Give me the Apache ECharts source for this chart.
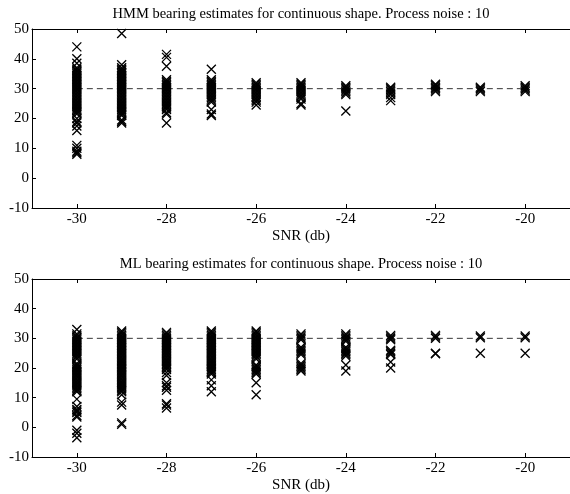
<!DOCTYPE html>
<html>
<head>
<meta charset="utf-8">
<script src="https://cdn.jsdelivr.net/npm/echarts@6/dist/echarts.min.js"></script>
<style>
  html, body { margin: 0; padding: 0; background: #fff; }
  #chart { width: 570px; height: 494px; }
</style>
</head>
<body>
<div id="chart"></div>
<script>
// SNR levels (dB) at which the bearing estimates were collected
const snrLevels = [-30, -29, -28, -27, -26, -25, -24, -23, -22, -21, -20];
const tickLabels = [-30, -28, -26, -24, -22, -20];
const trueBearing = 30;
const truthSpan = [-30, -20];

// HMM bearing estimates, one list per SNR level
const hmm30 = [44, 40, 38.5, 37, 36.5, 36, 35.5, 35, 34.5, 34, 33.5, 33, 32.5, 32, 31.5, 31, 30.5, 30, 29.5, 29, 28.5, 28, 27.5, 27, 26.5, 26, 25.5, 25, 24.5, 24, 23.5, 23, 22.5, 22, 21.5, 20, 19, 18.5, 17.5, 16, 11, 10, 9, 8.5, 8];
const hmm29 = [48.5, 38, 37, 36.5, 36, 35.5, 35, 34.5, 34, 33.5, 33, 32.5, 32, 31.5, 31, 30.5, 30, 29.5, 29, 28.5, 28, 27.5, 27, 26.5, 26, 25.5, 25, 24.5, 24, 23.5, 23, 22.5, 22, 21.5, 21, 19.5, 19, 18.5];
const hmm28 = [41.5, 40.5, 37.5, 33, 32.5, 32, 31.5, 31, 30.5, 30, 29.5, 29, 28.5, 28, 27.5, 27, 26.5, 26, 25.5, 25, 24.5, 24, 23.5, 23, 22, 21.5, 18.5];
const hmm27 = [36.5, 33, 32.5, 32, 31.5, 31, 30.5, 30, 29.5, 29, 28.5, 28, 27.5, 27, 26.5, 26, 25.5, 23, 21.5, 21];
const hmm26 = [32, 31.5, 31, 30.5, 30, 29.5, 29, 28.5, 28, 27.5, 27, 26.5, 26, 25.5, 24.5];
const hmm25 = [32, 31.5, 31, 30.5, 30, 29.5, 29, 28.5, 28, 27.5, 27, 26.5, 25, 24.5];
const hmm24 = [31, 30.5, 30, 29.5, 29, 28.5, 28, 22.5];
const hmm23 = [30.5, 30, 29.5, 29, 28.5, 28, 27, 26];
const hmm22 = [31.5, 31, 30.5, 30, 29.5, 29];
const hmm21 = [30.5, 30, 29.5, 29];
const hmm20 = [31, 30.5, 30, 29.5, 29];

// ML bearing estimates, one list per SNR level
const ml30 = [33, 31.5, 31, 30.5, 30, 29.5, 29, 28.5, 28, 27.5, 27, 26.5, 26, 25.5, 25, 24.5, 24, 23.5, 23, 21.5, 21, 20.5, 20, 19.5, 19, 18.5, 18, 17.5, 17, 16.5, 16, 15.5, 15, 14.5, 14, 13.5, 13, 12.5, 12, 9.5, 7, 6, 5.5, 5, 4, 3.5, -1, -2, -3.5];
const ml29 = [32.5, 32, 31.5, 31, 30.5, 30, 29.5, 29, 28.5, 28, 27.5, 27, 26.5, 26, 25.5, 25, 24.5, 24, 23.5, 23, 22.5, 22, 21.5, 21, 20.5, 20, 19.5, 19, 18.5, 18, 17.5, 17, 16.5, 16, 15.5, 15, 14.5, 14, 13.5, 13, 12.5, 12, 11, 8.5, 7.5, 1.5, 1];
const ml28 = [32, 31.5, 31, 30.5, 30, 29.5, 29, 28.5, 28, 27.5, 27, 26.5, 26, 25.5, 25, 24.5, 24, 23.5, 23, 22.5, 22, 21.5, 21, 20.5, 20, 19.5, 18.5, 17.5, 15, 14, 13.5, 12.5, 8, 7.5, 6.5];
const ml27 = [32.5, 32, 31.5, 31, 30.5, 30, 29.5, 29, 28.5, 28, 27.5, 27, 26.5, 26, 25.5, 25, 24.5, 24, 23.5, 23, 22.5, 22, 21.5, 21, 20.5, 20, 19.5, 19, 18.5, 18, 16, 14, 12];
const ml26 = [32.5, 32, 31.5, 31, 30.5, 30, 29.5, 29, 28.5, 28, 27.5, 27, 26.5, 26, 25.5, 25, 24.5, 24, 23.5, 23, 21, 20.5, 20, 19.5, 19, 18.5, 18, 15, 11];
const ml25 = [31.5, 31, 30.5, 30, 29.5, 27, 26.5, 26, 25.5, 25, 24.5, 21.5, 21, 20.5, 20, 19.5, 19];
const ml24 = [31.5, 31, 30.5, 30, 29.5, 29, 27, 26.5, 26, 25.5, 25, 24.5, 24, 21, 19];
const ml23 = [31, 30.5, 30, 29.5, 26, 25.5, 25, 24.5, 22, 20];
const ml22 = [31, 30.5, 30, 25, 24.8];
const ml21 = [30.8, 30.2, 25];
const ml20 = [30.8, 30.2, 25];

const hmmSets = [hmm30, hmm29, hmm28, hmm27, hmm26, hmm25, hmm24, hmm23, hmm22, hmm21, hmm20];
const mlSets = [ml30, ml29, ml28, ml27, ml26, ml25, ml24, ml23, ml22, ml21, ml20];

function toPoints(sets) {
  const pts = [];
  sets.forEach((vals, i) => vals.forEach(v => pts.push([snrLevels[i], v])));
  return pts;
}

const serif = "'Liberation Serif', 'Times New Roman', serif";
const crossSymbol = 'path://M0,0L10,10M10,0L0,10';
const fontSize = 15;
const titleSize = 14.5;

function bottomAxis(gridIndex) {
  return {
    type: 'value', gridIndex, position: 'bottom',
    min: -31, max: -19,
    name: 'SNR (db)', nameLocation: 'middle', nameGap: 21,
    nameTextStyle: { fontFamily: serif, fontSize, color: '#000' },
    axisLine: { show: true, onZero: false, lineStyle: { color: '#000', width: 1 } },
    axisTick: { show: true, inside: true, length: 4, customValues: tickLabels, lineStyle: { color: '#000' } },
    axisLabel: { show: true, customValues: tickLabels, margin: 4, fontFamily: serif, fontSize, color: '#000' },
    splitLine: { show: false }
  };
}
function topAxis(gridIndex, title) {
  return {
    type: 'value', gridIndex, position: 'top',
    min: -31, max: -19,
    name: title, nameLocation: 'middle', nameGap: 7,
    nameTextStyle: { fontFamily: serif, fontSize: titleSize, color: '#000' },
    axisLine: { show: true, onZero: false, lineStyle: { color: '#000', width: 1 } },
    axisTick: { show: true, inside: true, length: 4, customValues: tickLabels, lineStyle: { color: '#000' } },
    axisLabel: { show: false },
    splitLine: { show: false }
  };
}
function leftAxis(gridIndex) {
  return {
    type: 'value', gridIndex, min: -10, max: 50, interval: 10,
    axisLine: { show: true, onZero: false, lineStyle: { color: '#000', width: 1 } },
    axisTick: { show: true, inside: true, length: 4, lineStyle: { color: '#000' } },
    axisLabel: { margin: 3, fontFamily: serif, fontSize, color: '#000' },
    splitLine: { show: false }
  };
}
function scatterSeries(idx, sets) {
  return {
    type: 'scatter', xAxisIndex: idx * 2, yAxisIndex: idx,
    data: toPoints(sets),
    symbol: crossSymbol, symbolSize: 9,
    itemStyle: { color: 'transparent', borderColor: '#000', borderWidth: 1.3, opacity: 1 },
    silent: true, z: 3
  };
}
function truthSeries(idx) {
  return {
    type: 'line', xAxisIndex: idx * 2, yAxisIndex: idx,
    data: truthSpan.map(x => [x, trueBearing]),
    symbol: 'none', silent: true, z: 2,
    lineStyle: { color: '#000', width: 0.8, type: [6, 4] }
  };
}

const chart = echarts.init(document.getElementById('chart'), null, { renderer: 'canvas' });
chart.setOption({
  animation: false,
  backgroundColor: '#fff',
  grid: [
    { left: 32, right: -5, top: 29, height: 179, containLabel: false },
    { left: 32, right: -5, top: 279, height: 179, containLabel: false }
  ],
  xAxis: [
    bottomAxis(0), topAxis(0, 'HMM bearing estimates for continuous shape. Process noise : 10'),
    bottomAxis(1), topAxis(1, 'ML bearing estimates for continuous shape. Process noise : 10')
  ],
  yAxis: [leftAxis(0), leftAxis(1)],
  series: [
    truthSeries(0), scatterSeries(0, hmmSets),
    truthSeries(1), scatterSeries(1, mlSets)
  ]
});
</script>
</body>
</html>
